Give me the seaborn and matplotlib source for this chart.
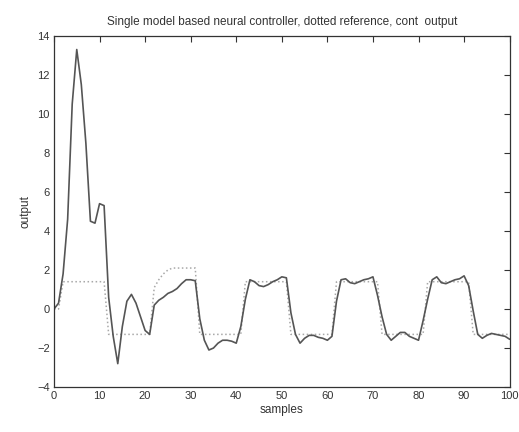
import numpy as np
import pandas as pd
import seaborn as sns
import matplotlib
matplotlib.use("Agg")
import matplotlib.pyplot as plt

# values, one per sample
samples = list(range(0, 101))
output = [0.0, 0.3, 1.8, 4.6, 10.5, 13.3, 11.5, 8.5, 4.5, 4.4,
          5.4, 5.3, 0.6, -1.4, -2.8, -0.9, 0.4, 0.75, 0.3, -0.4,
          -1.1, -1.3, 0.2, 0.45, 0.6, 0.8, 0.9, 1.05, 1.3, 1.5,
          1.5, 1.45, -0.5, -1.6, -2.1, -2.0, -1.75, -1.6, -1.6, -1.65,
          -1.75, -0.9, 0.5, 1.5, 1.4, 1.2, 1.15, 1.25, 1.4, 1.5,
          1.65, 1.6, -0.2, -1.3, -1.75, -1.5, -1.35, -1.35, -1.45, -1.5,
          -1.6, -1.4, 0.4, 1.5, 1.55, 1.35, 1.3, 1.4, 1.5, 1.55,
          1.65, 0.7, -0.4, -1.3, -1.6, -1.4, -1.2, -1.2, -1.4, -1.5,
          -1.6, -0.6, 0.5, 1.5, 1.65, 1.35, 1.3, 1.4, 1.5, 1.55,
          1.7, 1.2, -0.1, -1.3, -1.5, -1.35, -1.25, -1.3, -1.35, -1.4,
          -1.55]
reference = ([0.0, 0.0] + [1.4] * 10 + [-1.3] * 10
             + [1.1, 1.5, 1.8, 2.0] + [2.1] * 6
             + [-1.3] * 10 + [1.4] * 10 + [-1.3] * 10 + [1.4] * 10
             + [-1.3] * 10 + [1.4] * 10 + [-1.3] * 9)

x_ticks = list(range(0, 101, 10))
y_ticks = list(range(-4, 15, 2))

sns.set_style("white")
plt.rcParams['font.family'] = ['Liberation Sans', 'DejaVu Sans']
plt.rcParams['font.size'] = 8

data = pd.DataFrame({'samples': samples, 'output': output, 'reference': reference})

fig = plt.figure(figsize=(5.19, 4.32), dpi=100)
ax = fig.add_axes([0.104, 0.104, 0.878, 0.813])

sns.lineplot(x='samples', y='reference', data=data, ax=ax, color='#a8a8a8',
             linestyle=':', linewidth=1.1)
sns.lineplot(x='samples', y='output', data=data, ax=ax, color='#555555',
             linewidth=1.2)

ax.set_xlim(0, 100)
ax.set_ylim(-4, 14)
ax.set_xticks(x_ticks)
ax.set_yticks(y_ticks)
ax.tick_params(direction='in', top=True, right=True, length=4, width=0.8,
               colors='#333333', labelsize=8, pad=3)
for sp in ax.spines.values():
    sp.set_color('#333333')
    sp.set_linewidth(0.9)

ax.set_title('Single model based neural controller, dotted reference, cont  output',
             fontsize=8.5, color='#333333', pad=8)
ax.set_xlabel('samples', fontsize=8.5, color='#333333', labelpad=2)
ax.set_ylabel('output', fontsize=8.5, color='#333333', labelpad=4)

fig.savefig('out.png', dpi=100)
